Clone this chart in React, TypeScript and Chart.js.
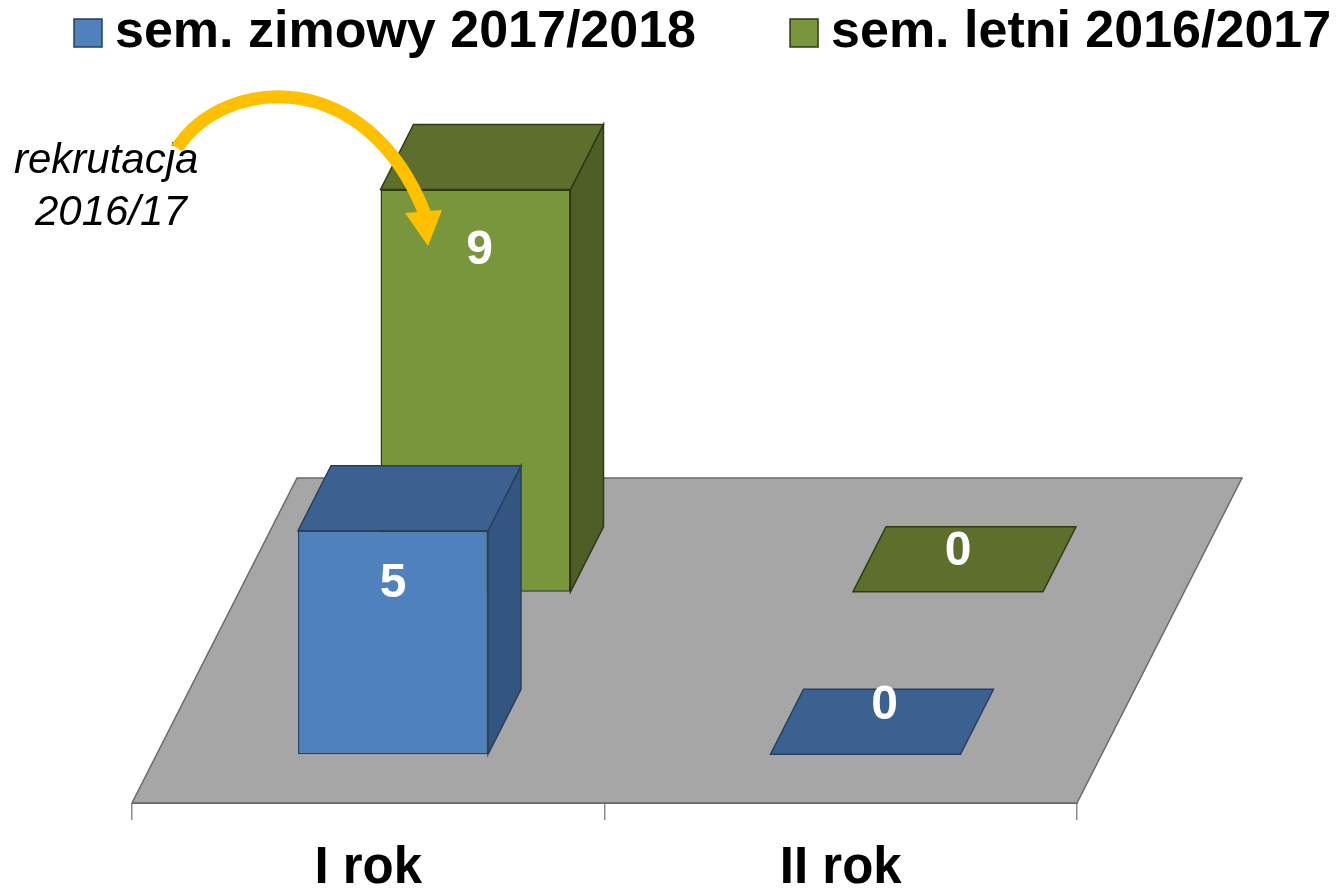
import React, { useEffect, useRef } from "react";
import { Chart, registerables } from "chart.js";

Chart.register(...registerables);

const categories = ["I rok", "II rok"];
const winterLabel = "sem. zimowy 2017/2018";
const summerLabel = "sem. letni 2016/2017";
const winterValues = [5, 0];
const summerValues = [9, 0];
const noteLines = ["rekrutacja", "2016/17"];

const FONT = "'Liberation Sans', Arial, sans-serif";
const FLOOR_DX = 165;
const FLOOR_DY = -325;
const slotDepth = [0.15, 0.65];
const barDepth = 0.2;
const frontColors = ["#4F81BD", "#7A963C"];
const topColors = ["#3C6191", "#5E6F2D"];
const sideColors = ["#34557F", "#4E5E26"];
const edgeColors = ["#263F5E", "#2F3A15"];
const labelOffsets = [
  [[0, 53], [19, -48]],
  [[4, 61], [10, -40]],
];

function poly(ctx: CanvasRenderingContext2D, pts: number[][], fill: string, stroke: string, lw = 1.5) {
  ctx.beginPath();
  pts.forEach((p, i) => (i ? ctx.lineTo(p[0], p[1]) : ctx.moveTo(p[0], p[1])));
  ctx.closePath();
  ctx.fillStyle = fill;
  ctx.fill();
  ctx.strokeStyle = stroke;
  ctx.lineWidth = lw;
  ctx.stroke();
}

const legendPlacement = {
  id: "legendPlacement",
  afterLayout(chart: any) {
    const lg = chart.legend;
    lg.maxWidth = 1600;
    lg.maxHeight = 300;
    lg.fit();
    lg.left = -20;
    lg.right = 1600;
    lg.top = -100;
    lg.bottom = 80;
  },
};

const depth3d = {
  id: "depth3d",
  beforeDatasetsDraw(chart: any) {
    const { ctx, chartArea: a } = chart;
    ctx.save();
    poly(
      ctx,
      [
        [a.left, a.bottom],
        [a.right, a.bottom],
        [a.right + FLOOR_DX, a.bottom + FLOOR_DY],
        [a.left + FLOOR_DX, a.bottom + FLOOR_DY],
      ],
      "#A6A6A6",
      "#6A6A6A",
      1.5
    );
    ctx.restore();
  },
  beforeDatasetDraw(chart: any, args: any) {
    const { ctx } = chart;
    const i = args.index;
    ctx.save();
    ctx.translate(slotDepth[i] * FLOOR_DX, slotDepth[i] * FLOOR_DY);
    const dx = barDepth * FLOOR_DX;
    const dy = barDepth * FLOOR_DY;
    args.meta.data.forEach((el: any) => {
      const l = el.x - el.width / 2;
      const r = el.x + el.width / 2;
      const t = el.y;
      const b = el.base;
      if (b - t > 0.5) {
        poly(ctx, [[r, t], [r + dx, t + dy], [r + dx, b + dy], [r, b]], sideColors[i], edgeColors[i]);
      }
      poly(ctx, [[l, t], [r, t], [r + dx, t + dy], [l + dx, t + dy]], topColors[i], edgeColors[i]);
    });
  },
  afterDatasetDraw(chart: any) {
    chart.ctx.restore();
  },
  afterDatasetsDraw(chart: any) {
    const { ctx } = chart;
    ctx.save();
    ctx.font = `bold 48px ${FONT}`;
    ctx.fillStyle = "#FFFFFF";
    ctx.textAlign = "center";
    ctx.textBaseline = "middle";
    chart.data.datasets.forEach((ds: any, i: number) => {
      chart.getDatasetMeta(i).data.forEach((el: any, j: number) => {
        const base = el.base + slotDepth[i] * FLOOR_DY;
        const top = el.y + slotDepth[i] * FLOOR_DY;
        const off = labelOffsets[i][j];
        const x = el.x + slotDepth[i] * FLOOR_DX + off[0];
        const y = (ds.data[j] > 0 ? top : base) + off[1];
        ctx.fillText(String(ds.data[j]), x, y);
      });
    });

    // note text
    ctx.font = `italic 42px ${FONT}`;
    ctx.fillStyle = "#000000";
    ctx.textAlign = "left";
    ctx.textBaseline = "alphabetic";
    ctx.fillText(noteLines[0], 14, 173);
    ctx.fillText(noteLines[1], 35, 225);

    // recruitment arrow
    ctx.strokeStyle = "#FFC000";
    ctx.fillStyle = "#FFC000";
    ctx.lineWidth = 13;
    ctx.beginPath();
    ctx.moveTo(177, 148);
    ctx.bezierCurveTo(225, 75, 367, 66, 425, 214);
    ctx.stroke();
    ctx.beginPath();
    ctx.moveTo(405, 213);
    ctx.lineTo(442, 210);
    ctx.lineTo(428, 246);
    ctx.closePath();
    ctx.fill();
    ctx.restore();
  },
};

export default function App() {
  const ref = useRef<HTMLCanvasElement>(null);
  useEffect(() => {
    const chart = new Chart(ref.current as HTMLCanvasElement, {
      type: "bar",
      data: {
        labels: categories,
        datasets: [
          {
            label: winterLabel,
            data: winterValues,
            backgroundColor: frontColors[0],
            borderColor: edgeColors[0],
            borderWidth: 1.5,
            borderSkipped: false,
            clip: false,
          },
          {
            label: summerLabel,
            data: summerValues,
            backgroundColor: frontColors[1],
            borderColor: edgeColors[1],
            borderWidth: 1.5,
            borderSkipped: false,
            clip: false,
          },
        ] as any,
      },
      options: {
        responsive: false,
        animation: false,
        layout: { padding: { left: 132, right: 262, top: 356, bottom: 0 } },
        datasets: { bar: { grouped: false, barPercentage: 0.402, categoryPercentage: 1 } },
        scales: {
          x: {
            afterFit(scale: any) {
              scale.height = 87;
            },
            grid: { drawOnChartArea: false, tickLength: 17, color: "#8C8C8C", lineWidth: 1.5 },
            border: { color: "#6A6A6A" },
            ticks: { color: "#000000", padding: 18, font: { family: FONT, size: 51, weight: "bold" } },
          },
          y: { display: false, min: 0, max: 10 },
        },
        plugins: {
          tooltip: { enabled: false },
          legend: {
            position: "chartArea",
            align: "start",
            labels: {
              usePointStyle: true,
              pointStyle: "rect",
              boxWidth: 2,
              boxHeight: 28,
              padding: 107,
              color: "#000000",
              font: { family: FONT, size: 52, weight: "bold" },
            },
          },
        },
      } as any,
      plugins: [legendPlacement, depth3d],
    });
    return () => chart.destroy();
  }, []);
  return (
    <canvas
      ref={ref}
      width={1339}
      height={890}
      style={{ position: "absolute", left: 0, top: 0, display: "block", background: "#FFFFFF" }}
    />
  );
}
